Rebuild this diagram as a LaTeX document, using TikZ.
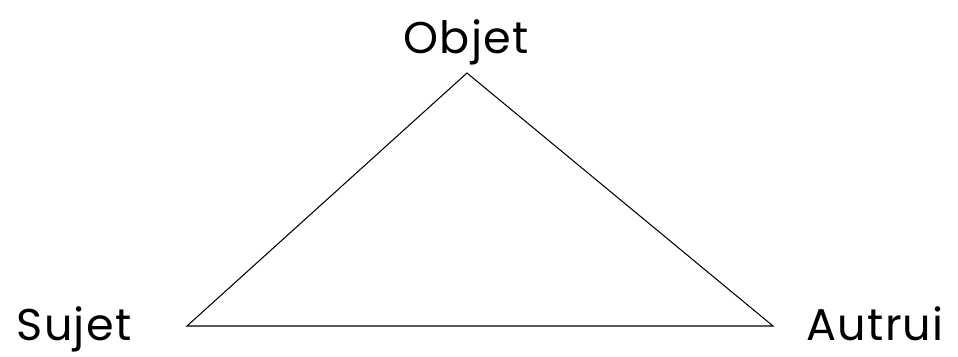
\documentclass[tikz,border=0pt]{standalone}
\usepackage{fontspec}
\setmainfont{Poppins}[LetterSpace=3]
\tikzset{
  sommet/.style={font=\fontsize{38}{44}\selectfont, anchor=base, inner sep=0pt},
  cote/.style={line width=0.9pt, line join=miter}
}
\begin{document}
\begin{tikzpicture}[x=0.03cm, y=-0.03cm]

% Cadre
\useasboundingbox (0,0) rectangle (958,356);

% Sommets
\coordinate (haut) at (467,73);
\coordinate (gauche) at (187,326);
\coordinate (droite) at (773,326);

% Triangle
\draw[cote] (haut) -- (gauche) -- (droite) -- cycle;

% Légendes
\node[sommet] (objet) at (466,53) {Objet};
\node[sommet] (sujet) at (74,340) {Sujet};
\node[sommet] (autrui) at (875,340) {Autrui};

\end{tikzpicture}
\end{document}
